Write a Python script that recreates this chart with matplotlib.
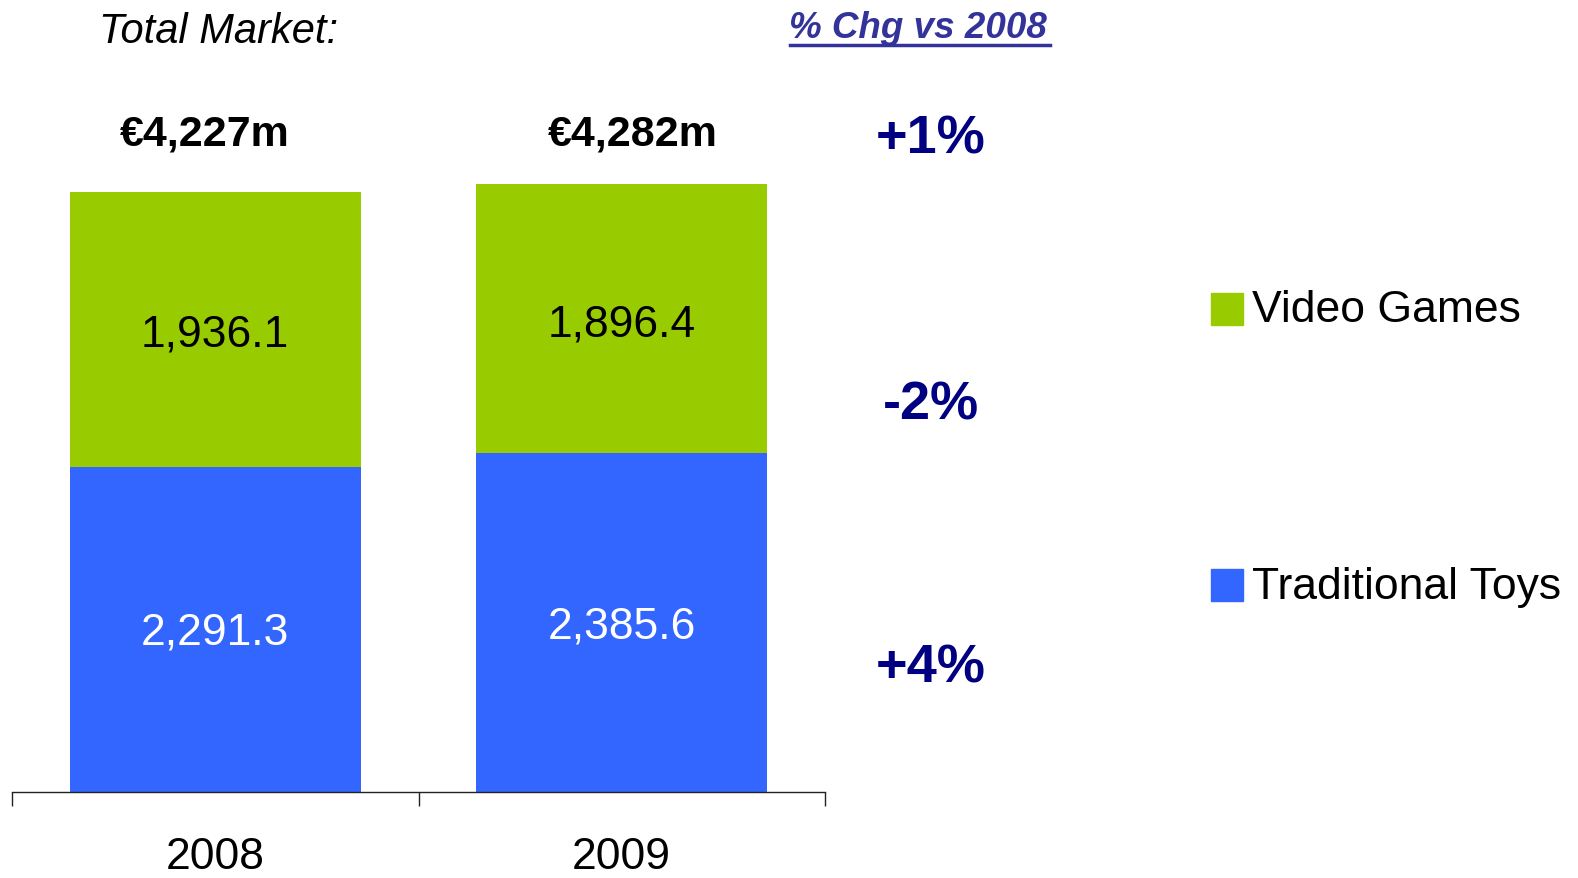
import matplotlib
matplotlib.use("Agg")
import matplotlib.pyplot as plt
from matplotlib.patches import Rectangle

# data (EUR millions)
years = ["2008", "2009"]
traditional_toys = [2291.3, 2385.6]
video_games = [1936.1, 1896.4]
series_names = ["Video Games", "Traditional Toys"]

plt.rcParams["font.family"] = ["Liberation Sans", "DejaVu Sans"]

W, H = 1578, 879
fig = plt.figure(figsize=(W / 100, H / 100), dpi=100)
ax = fig.add_axes([12 / W, 86 / H, 813 / W, 793 / H])

GREEN = "#99CC00"
BLUE = "#3366FF"
NAVY = "#000080"

x = list(range(len(years)))
totals = [t + v for t, v in zip(traditional_toys, video_games)]
ax.bar(x, traditional_toys, width=0.715, color=BLUE)
ax.bar(x, video_games, width=0.715, bottom=traditional_toys, color=GREEN)

ax.set_xlim(-0.5, 1.5)
ax.set_ylim(0, 793 / 0.1419)

# segment labels
for i in x:
    ax.text(i, traditional_toys[i] / 2 - 20, f"{traditional_toys[i]:,.1f}",
            ha="center", va="center", fontsize=32, color="white")
    ax.text(i, traditional_toys[i] + video_games[i] / 2 - 35, f"{video_games[i]:,.1f}",
            ha="center", va="center", fontsize=32, color="black")

for s in ["top", "left", "right"]:
    ax.spines[s].set_visible(False)
ax.spines["bottom"].set_color("#222222")
ax.spines["bottom"].set_linewidth(1.0)
ax.set_yticks([])
ax.set_xticks([-0.5, 0.5, 1.5])
ax.set_xticklabels([])
ax.tick_params(axis="x", which="major", direction="out", length=10, width=1.0, color="#222222")
ax.set_xticks(x, minor=True)
ax.set_xticklabels(years, minor=True, fontsize=32)
ax.tick_params(axis="x", which="minor", length=0, pad=32)


def ftext(px, py, s, **kw):
    return fig.text(px / W, 1 - py / H, s, **kw)


ftext(219, 32, "Total Market:", ha="center", va="center", fontsize=30, style="italic")
for i, px in zip(x, [205, 633]):
    ftext(px, 135, f"€{totals[i]:,.0f}m", ha="center", va="center",
          fontsize=31, fontweight="bold")

ftext(918, 28, "% Chg vs 2008", ha="center", va="center", fontsize=26.5,
      fontweight="bold", style="italic", color="#333399")
fig.add_artist(plt.Line2D([790 / W, 1050 / W], [1 - 46 / H, 1 - 46 / H],
                          color="#333399", linewidth=2.5))

chg_total = (totals[1] / totals[0] - 1) * 100
chg_vg = (video_games[1] / video_games[0] - 1) * 100
chg_tt = (traditional_toys[1] / traditional_toys[0] - 1) * 100
for val, py in [(chg_total, 139), (chg_vg, 406), (chg_tt, 669)]:
    ftext(931, py, f"{val:+.0f}%", ha="center", va="center", fontsize=39,
          fontweight="bold", color=NAVY)

# legend
for name, color, py in [(series_names[0], GREEN, 310), (series_names[1], BLUE, 586)]:
    fig.add_artist(Rectangle((1211 / W, 1 - (py + 16) / H), 32 / W, 32 / H,
                             color=color, transform=fig.transFigure))
    ftext(1252, py + 1, name, ha="left", va="center", fontsize=32)

fig.savefig("out.png", dpi=100)
